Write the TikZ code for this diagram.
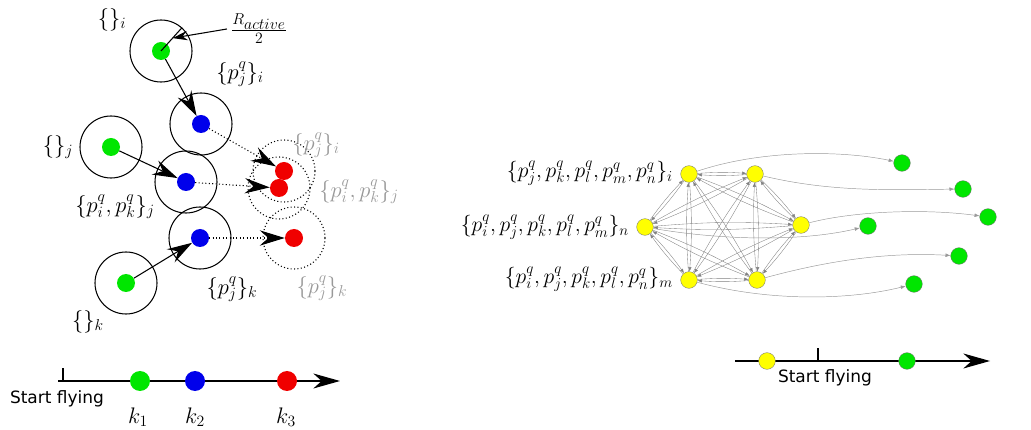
\documentclass[tikz,border=0pt]{standalone}
\usepackage{fix-cm}
\usepackage{fontspec}
\newfontfamily\flyfont{DejaVu Sans}
\usetikzlibrary{arrows.meta,calc}
\definecolor{dgreen}{RGB}{0,230,0}
\definecolor{dblue}{RGB}{0,0,235}
\definecolor{dred}{RGB}{240,0,0}
\definecolor{dyellow}{RGB}{255,255,0}

\begin{document}
\begin{tikzpicture}[x=0.03cm,y=-0.03cm,dot/.style={circle,inner sep=0pt,minimum size=0.54cm},zone/.style={circle,draw,line width=0.9pt,minimum size=1.86cm,inner sep=0pt},ghost/.style={zone,dotted},lbl/.style={font=\fontsize{19.2}{22}\selectfont},glbl/.style={lbl,text=black!40},setlbl/.style={font=\fontsize{18.5}{22}\selectfont,anchor=east},big/.style={-{Stealth[length=7.5mm,width=4.6mm,inset=2.6mm]},line width=0.9pt},fly/.style={font=\flyfont\fontsize{14.5}{16}\selectfont},axis/.style={-{Stealth[length=8mm,width=4.5mm,inset=2.5mm]},line width=1pt},hub/.style={circle,draw=black!55,line width=0.3pt,fill=dyellow,inner sep=0pt,minimum size=0.5cm},leaf/.style={circle,draw=black!55,line width=0.3pt,fill=dgreen,inner sep=0pt,minimum size=0.5cm},mesh/.style={-{Latex[length=1.3mm,width=1mm]},draw=black!50,line width=0.3pt},flow/.style={-{Latex[length=1.5mm,width=1.1mm]},draw=black!40,line width=0.4pt}]
\useasboundingbox (0,0) rectangle (1031,430);
% left: drones with their zones
\node[dot,fill=dgreen] (gi) at (161,51) {};
\node[zone] (zi) at (161,51) {};
\node[dot,fill=dgreen] (gj) at (111,147) {};
\node[zone] (zj) at (111,147) {};
\node[dot,fill=dgreen] (gk) at (126,283) {};
\node[zone] (zk) at (126,283) {};
\node[dot,fill=dblue] (bi) at (201,124) {};
\node[zone] (zbi) at (201,124) {};
\node[dot,fill=dblue] (bj) at (186,182) {};
\node[zone] (zbj) at (186,182) {};
\node[dot,fill=dblue] (bk) at (200,238) {};
\node[zone] (zbk) at (200,238) {};
\node[dot,fill=dred] (ri) at (284,171) {};
\node[ghost] (zri) at (284,171) {};
\node[dot,fill=dred] (rj) at (279,188) {};
\node[ghost] (zrj) at (279,188) {};
\node[dot,fill=dred] (rk) at (294,238) {};
\node[ghost] (zrk) at (294,238) {};
% radius
\draw[line width=0.9pt] (gi.center) -- (zi.48);
\coordinate (rmid) at ($(gi.center)!0.55!(zi.48)$);
\node[lbl] (ract) at (259,29) {$\frac{R_{\scriptstyle active}}{2}$};
\draw[-{Stealth[length=4.5mm,width=2.8mm,inset=1.5mm]},line width=0.9pt] (ract.west) -- (rmid);
\draw[big] (gi) -- (bi);
\draw[big] (gj) -- (bj);
\draw[big] (gk) -- (bk);
\draw[big,dotted] (bi) -- (ri);
\draw[big,dotted] (bj) -- (rj);
\draw[big,dotted] (bk) -- (rk);
\node[lbl] (li) at (112,20) {$\{\}_i$};
\node[lbl] (lj) at (58,147) {$\{\}_j$};
\node[lbl] (lk) at (88,322) {$\{\}_k$};
\node[lbl] (lbi) at (240,74) {$\{p_j^q\}_i$};
\node[lbl] (lbj) at (115,207) {$\{p_i^q,p_k^q\}_j$};
\node[lbl] (lbk) at (232,289) {$\{p_j^q\}_k$};
\node[glbl] (lri) at (316,145) {$\{p_j^q\}_i$};
\node[glbl] (lrj) at (359,192) {$\{p_i^q,p_k^q\}_j$};
\node[glbl] (lrk) at (322,288) {$\{p_j^q\}_k$};
% left time axis
\coordinate (a0) at (58,381);
\coordinate (a1) at (340,381);
\coordinate (t0) at (63,381);
\coordinate (t1) at (63,368);
\draw[axis] (a0) -- (a1);
\draw[line width=1pt] (t0) -- (t1);
\node[dot,fill=dgreen,minimum size=0.6cm] (k1) at (140,381) {};
\node[dot,fill=dblue,minimum size=0.6cm] (k2) at (195,381) {};
\node[dot,fill=dred,minimum size=0.6cm] (k3) at (287,381) {};
\node[fly] (s1) at (57,399) {Start flying};
\node[lbl] (n1) at (138,417) {$k_1$};
\node[lbl] (n2) at (195,417) {$k_2$};
\node[lbl] (n3) at (286,417) {$k_3$};
% right: swarm
\node[hub] (y1) at (689,174) {};
\node[hub] (y2) at (755,174) {};
\node[hub] (y3) at (801,225) {};
\node[hub] (y4) at (757,280) {};
\node[hub] (y5) at (689,280) {};
\node[hub] (y6) at (645,227) {};
\foreach \a in {1,...,6}{
  \foreach \b in {1,...,6}{
    \ifnum\a=\b\else\draw[mesh] (y\a) to[bend left=4] (y\b);\fi
  }
}
\node[leaf] (g1) at (902,163) {};
\node[leaf] (g2) at (963,189) {};
\node[leaf] (g3) at (988,217) {};
\node[leaf] (g4) at (868,226) {};
\node[leaf] (g5) at (959,256) {};
\node[leaf] (g6) at (914,284) {};
\draw[flow] (y1) .. controls (760,150) and (840,150) .. (g1);
\draw[flow] (y2) .. controls (830,192) and (890,190) .. (g2);
\draw[flow] (y3) .. controls (850,212) and (920,208) .. (g3);
\draw[flow] (y6) .. controls (720,240) and (800,242) .. (g4);
\draw[flow] (y4) .. controls (830,260) and (890,252) .. (g5);
\draw[flow] (y5) .. controls (770,302) and (850,300) .. (g6);
\node[setlbl] (ly1) at (677,173) {$\{p_j^q,p_k^q,p_l^q,p_m^q,p_n^q\}_i$};
\node[setlbl] (ly6) at (633,227) {$\{p_i^q,p_j^q,p_k^q,p_l^q,p_m^q\}_n$};
\node[setlbl] (ly5) at (677,279) {$\{p_i^q,p_j^q,p_k^q,p_l^q,p_n^q\}_m$};
% right time axis
\coordinate (b0) at (735,361);
\coordinate (b1) at (990,361);
\coordinate (u0) at (818,361);
\coordinate (u1) at (818,348);
\draw[axis] (b0) -- (b1);
\draw[line width=1pt] (u0) -- (u1);
\node[hub] (q1) at (767,361) {};
\node[leaf] (q2) at (907,361) {};
\node[fly] (s2) at (825,378) {Start flying};
\end{tikzpicture}
\end{document}
